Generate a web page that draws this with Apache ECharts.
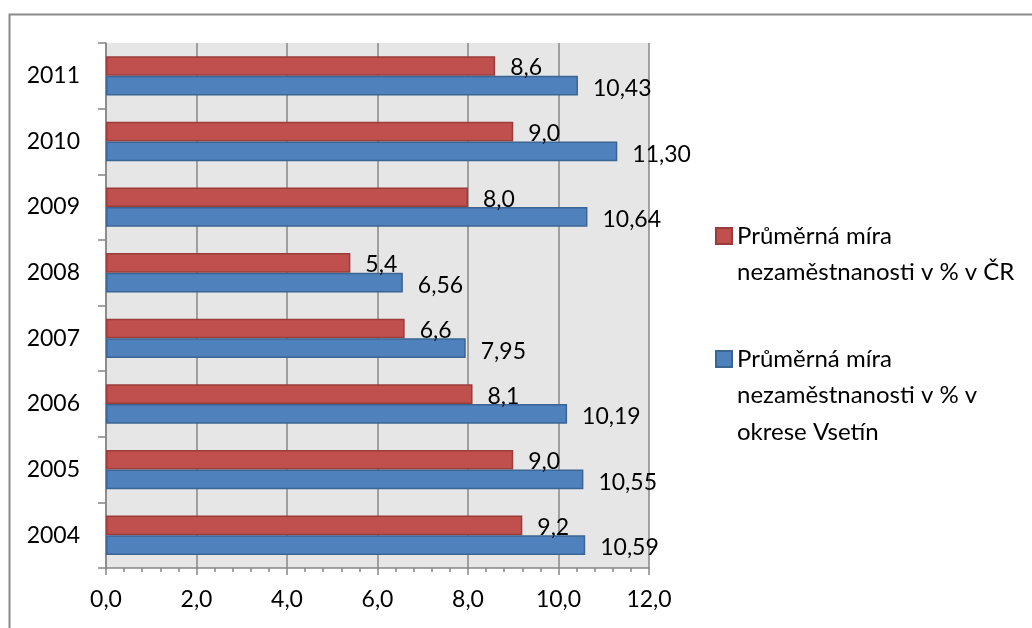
<!DOCTYPE html>
<html>
<head>
<meta charset="utf-8">
<script src="https://cdn.jsdelivr.net/npm/echarts@6/dist/echarts.min.js"></script>
<style>
  html, body { margin: 0; padding: 0; background: #fff; }
  #chart { width: 1032px; height: 628px; }
</style>
</head>
<body>
<div id="chart"></div>
<script>
// Average unemployment rate, Czech Republic vs. the Vsetín district
const years = ['2004', '2005', '2006', '2007', '2008', '2009', '2010', '2011'];
const rateCR = [9.2, 9.0, 8.1, 6.6, 5.4, 8.0, 9.0, 8.6];
const rateVsetin = [10.59, 10.55, 10.19, 7.95, 6.56, 10.64, 11.30, 10.43];
const nameCR = 'Průměrná míra nezaměstnanosti v % v ČR';
const nameVsetin = 'Průměrná míra nezaměstnanosti v % v okrese Vsetín';
const legendLinesCR = ['Průměrná míra', 'nezaměstnanosti v % v ČR'];
const legendLinesVsetin = ['Průměrná míra', 'nezaměstnanosti v % v', 'okrese Vsetín'];

const FONT = 'Lato, "Noto Sans", sans-serif';
const FS = 23;
const LEGEND_FS = 24;
const LH = 36.5;
const ICON = 16;

const fmt = (v, d) => v.toFixed(d).replace('.', ',');

const chart = echarts.init(document.getElementById('chart'), null, { renderer: 'canvas' });

// Legend text is centred on its icon, so blank lines are put above the
// wrapped name to keep the icon level with the first line.
function legendFor(name, lines, iconCenterY) {
  const n = lines.length;
  const blank = new Array(n - 1).fill(' ');
  const total = 2 * n - 1;
  return {
    show: true,
    orient: 'vertical',
    left: 715,
    top: iconCenterY - (total * LH) / 2,
    padding: 0,
    itemWidth: ICON,
    itemHeight: ICON,
    itemGap: 4,
    selectedMode: false,
    icon: 'rect',
    data: [name],
    formatter: () => blank.concat(lines).join('\n'),
    textStyle: { fontFamily: FONT, fontSize: LEGEND_FS, lineHeight: LH, color: '#000', padding: [0, 0, 0, 0] }
  };
}

chart.setOption({
  animation: false,
  backgroundColor: '#fff',
  textStyle: { fontFamily: FONT },
  graphic: [{
    type: 'rect',
    shape: { x: 9.5, y: 14.5, width: 1040, height: 640 },
    style: { fill: 'none', stroke: '#8a8a8a', lineWidth: 2 },
    silent: true,
    z: -10
  }],
  grid: {
    left: 106, right: 383, top: 43, bottom: 60,
    show: true, backgroundColor: '#e6e6e6', borderWidth: 0
  },
  legend: [
    legendFor(nameCR, legendLinesCR, 236),
    legendFor(nameVsetin, legendLinesVsetin, 359)
  ],
  xAxis: {
    type: 'value',
    min: 0, max: 12, interval: 2,
    axisLine: { show: true, lineStyle: { color: '#868686', width: 1.5 } },
    axisTick: { show: true, length: 7, lineStyle: { color: '#868686', width: 1.5 } },
    minorTick: { show: true, splitNumber: 5, length: 4, lineStyle: { color: '#868686', width: 1.5 } },
    splitLine: { show: true, lineStyle: { color: '#878787', width: 1.5 } },
    axisLabel: {
      margin: 20, fontFamily: FONT, fontSize: FS, color: '#000',
      formatter: v => fmt(v, 1)
    }
  },
  yAxis: {
    type: 'category',
    data: years,
    boundaryGap: true,
    axisLine: { show: true, lineStyle: { color: '#868686', width: 1.5 } },
    axisTick: { show: true, length: 8, lineStyle: { color: '#868686', width: 1.5 } },
    splitLine: { show: false },
    axisLabel: { margin: 26, fontFamily: FONT, fontSize: FS, color: '#000' }
  },
  series: [
    {
      name: nameCR,
      type: 'bar',
      data: rateCR,
      barGap: '0%',
      barCategoryGap: '40%',
      itemStyle: { color: '#c0504d', borderColor: '#9c3c3a', borderWidth: 1.5 },
      label: {
        show: true, position: 'right', distance: 15, offset: [0, 2],
        fontFamily: FONT, fontSize: FS, color: '#000',
        formatter: p => fmt(p.value, 1)
      }
    },
    {
      name: nameVsetin,
      type: 'bar',
      data: rateVsetin,
      barGap: '0%',
      barCategoryGap: '40%',
      itemStyle: { color: '#4f81bd', borderColor: '#3b6593', borderWidth: 1.5 },
      label: {
        show: true, position: 'right', distance: 15, offset: [0, 3],
        fontFamily: FONT, fontSize: FS, color: '#000',
        formatter: p => fmt(p.value, 2)
      }
    }
  ]
});
</script>
</body>
</html>
